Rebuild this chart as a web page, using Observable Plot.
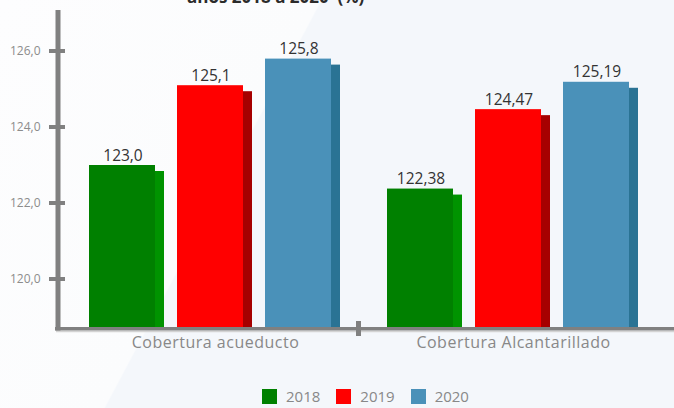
<!DOCTYPE html>
<html>
<head>
<meta charset="utf-8">
<script src="https://cdn.jsdelivr.net/npm/d3@7"></script>
<script src="https://cdn.jsdelivr.net/npm/@observablehq/plot@0.6"></script>
<style>
  html, body { margin: 0; padding: 0; }
  body {
    width: 674px; height: 408px; overflow: hidden; position: relative;
    font-family: "Open Sans", "DejaVu Sans", sans-serif;
    background: linear-gradient(118deg, #fdfdfe 0%, #fbfcfd 36%, #f4f7fb 36.2%, #f4f7fb 100%);
  }
  #title {
    position: absolute; left: 187px; top: -12px; white-space: pre;
    font-size: 17px; font-weight: 700; color: #2b2b2b; line-height: 17px;
  }
  #chart { position: absolute; left: 0; top: 0; }
  #legend {
    position: absolute; left: 262px; top: 388px; display: flex; align-items: center;
    font-size: 15px; color: #888; line-height: 16px;
  }
  #legend .item { display: flex; align-items: center; margin-right: 16px; }
  #legend .sw { width: 15px; height: 15px; margin-right: 9px; }
</style>
</head>
<body>
<div id="title"></div>
<div id="chart"></div>
<div id="legend"></div>
<script>
const titleText = "años 2018 a 2020  (%)";
const categories = ["Cobertura acueducto", "Cobertura Alcantarillado"];
const years = ["2018", "2019", "2020"];
const acueducto = [123.0, 125.1, 125.8];
const alcantarillado = [122.38, 124.47, 125.19];
const acueductoLabels = ["123,0", "125,1", "125,8"];
const alcantarilladoLabels = ["122,38", "124,47", "125,19"];
const yTicks = [120, 122, 124, 126];
const yTickLabels = ["120,0", "122,0", "124,0", "126,0"];
const frontColors = ["#008000", "#ff0000", "#4a91b9"];
const sideColors = ["#009300", "#a60000", "#2a7394"];
const yDomain = [118.737, 127.079];

document.getElementById("title").textContent = titleText;

const series = [acueducto, alcantarillado];
const seriesLabels = [acueductoLabels, alcantarilladoLabels];
const rows = [];
categories.forEach((cat, ci) => {
  years.forEach((yr, yi) => {
    rows.push({cat, year: yr, value: series[ci][yi], label: seriesLabels[ci][yi],
               front: frontColors[yi], side: sideColors[yi]});
  });
});

const gray = "#808080";
const svg = Plot.plot({
  width: 674, height: 372,
  marginLeft: 58, marginRight: 20, marginTop: 10, marginBottom: 45,
  style: {background: "transparent", fontFamily: "'Open Sans', sans-serif", overflow: "visible"},
  fx: {domain: categories, padding: 0, label: null},
  x: {domain: years, paddingInner: 0.153, paddingOuter: 0.26, align: 0.652, axis: null},
  y: {domain: yDomain, axis: null},
  color: {type: "identity"},
  marks: [
    Plot.barY(rows, {fx: "cat", x: "year", y1: yDomain[0], y2: "value", fill: "side", insetLeft: 66, insetTop: 6}),
    Plot.barY(rows, {fx: "cat", x: "year", y1: yDomain[0], y2: "value", fill: "front", insetRight: 9}),
    Plot.text(rows, {fx: "cat", x: "year", y: "value", text: "label", dx: -4, dy: -5,
                     lineAnchor: "bottom", fontSize: 15.5, fontWeight: 500, fill: "#333"}),
    Plot.axisY({ticks: yTicks, tickFormat: d => yTickLabels[yTicks.indexOf(d)], tickSize: 0,
                tickPadding: 18, fontSize: 12, fill: "#8c8c8c", label: null}),
    Plot.axisFx({anchor: "bottom", tickSize: 0, tickPadding: 9, fontSize: 16, fill: "#888",
                 dx: 8, label: null})
  ]
});
document.getElementById("chart").appendChild(svg);

// axis lines and tick marks, placed from the plot's own scales
const y = svg.scale("y"), fx = svg.scale("fx");
const x0 = fx.apply(categories[0]);
const yBase = y.apply(yDomain[0]);
const yTop = y.apply(yDomain[1]);
const g = d3.select(svg).append("g").attr("stroke", gray).attr("stroke-linecap", "butt");
g.append("line").attr("x1", x0 - 2).attr("x2", 674).attr("y1", yBase + 4.5).attr("y2", yBase + 4.5)
  .attr("stroke", "#d3d3d3").attr("stroke-width", 1.5);
g.append("line").attr("x1", x0 - 3).attr("x2", 674).attr("y1", yBase + 1.7).attr("y2", yBase + 1.7)
  .attr("stroke-width", 3.5);
g.append("line").attr("x1", x0).attr("x2", x0).attr("y1", yTop).attr("y2", yBase + 3.5)
  .attr("stroke-width", 5);
yTicks.forEach(t => {
  g.append("line").attr("x1", x0 - 9).attr("x2", x0 + 7).attr("y1", y.apply(t)).attr("y2", y.apply(t))
    .attr("stroke-width", 4);
});
const xm = fx.apply(categories[1]) + 2.5;
g.append("line").attr("x1", xm).attr("x2", xm).attr("y1", yBase - 6).attr("y2", yBase + 9)
  .attr("stroke-width", 5);

// the category labels are spaced a little wider, like the reference
d3.select(svg).selectAll("[aria-label='fx-axis tick label'] text, [aria-label='fx-axis tick label']")
  .style("letter-spacing", "0.5px");

// legend
const legend = d3.select("#legend");
years.forEach((yr, i) => {
  const it = legend.append("div").attr("class", "item");
  it.append("div").attr("class", "sw").style("background", frontColors[i]);
  it.append("span").text(yr);
});
</script>
</body>
</html>
